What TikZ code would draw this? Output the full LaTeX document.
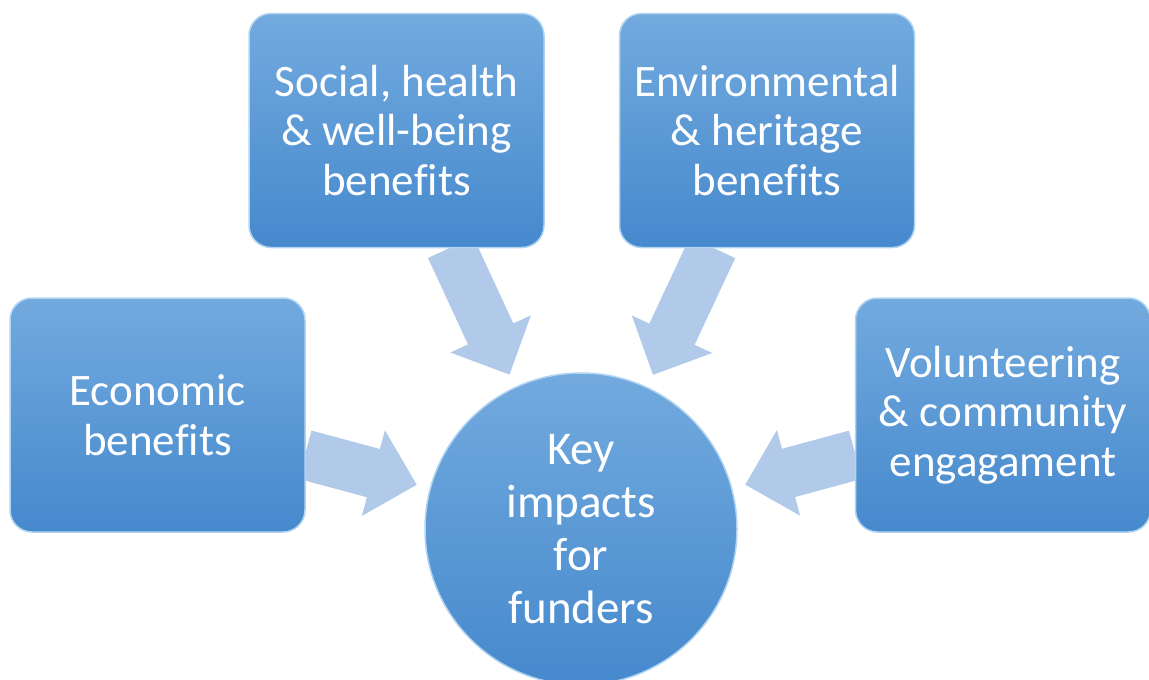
\documentclass[tikz,border=0pt]{standalone}
\usepackage{fontspec}
\setmainfont{Carlito}[Ligatures = NoCommon]
\usetikzlibrary{arrows.meta}
\usetikzlibrary{backgrounds}
\definecolor{boxtop}{RGB}{114,170,222}
\definecolor{boxbot}{RGB}{70,137,205}
\definecolor{boxrim}{RGB}{178,212,243}
\definecolor{arrowfill}{RGB}{178,202,233}
\tikzset{benefit/.style = {rounded corners = 22pt, minimum width = 295pt, minimum height = 234pt,
    top color = boxtop, bottom color = boxbot, draw = boxrim, line width = 1.5pt, outer sep = 0pt,
    text = white, align = center, font = \fontsize{45}{49.5}\selectfont}}
\tikzset{impact/.style = {circle, minimum size = 312pt, inner sep = 0pt, outer sep = 0pt,
    top color = boxtop, bottom color = boxbot, draw = boxrim, line width = 1.5pt,
    text = white, align = center, font = \fontsize{47}{53}\selectfont}}
\tikzset{bigarrow/.style = {draw = arrowfill, line width = 50pt, shorten > = 14pt,
    -{Triangle[length = 45pt, width = 86pt]}}}

\begin{document}
\begin{tikzpicture}[x = 1pt, y = -1pt]
    \useasboundingbox (0, 0) rectangle (1149, 680);
    \node [benefit] (econ) at (157.5, 415) {Economic\\benefits};
    \node [benefit] (social) at (396.5, 130.5) {Social, health\\\& well-being\\benefits};
    \node [benefit] (env) at (767, 130.5) {Environmental\\\& heritage\\benefits};
    \node [benefit] (vol) at (1003, 415) {Volunteering\\\& community\\engagament};
    \node [impact] (key) at (581, 529) {Key\\impacts\\for\\funders};
    \begin{scope}[on background layer]
      \foreach \src in {econ, social, env, vol}{
        \draw [bigarrow] (\src) -- (key);
      }
    \end{scope}
  \end{tikzpicture}
\end{document}
